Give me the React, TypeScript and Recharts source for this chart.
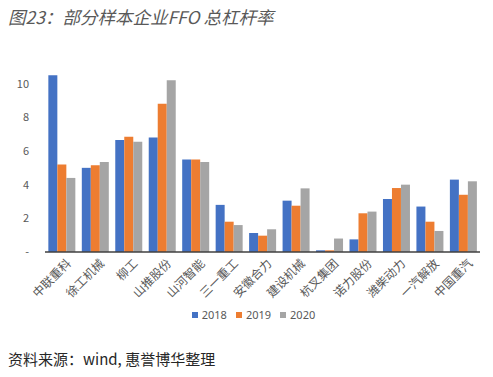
import { BarChart, Bar, XAxis, YAxis } from 'recharts';

const companies = ['中联重科', '徐工机械', '柳工', '山推股份', '山河智能', '三一重工', '安徽合力', '建设机械', '杭叉集团', '诺力股份', '潍柴动力', '一汽解放', '中国重汽'];
const v2018 = [10.5, 5.0, 6.65, 6.8, 5.5, 2.8, 1.13, 3.05, 0.1, 0.75, 3.15, 2.7, 4.3];
const v2019 = [5.2, 5.15, 6.85, 8.8, 5.5, 1.8, 0.97, 2.75, 0.1, 2.3, 3.8, 1.8, 3.4];
const v2020 = [4.4, 5.35, 6.55, 10.2, 5.35, 1.6, 1.35, 3.78, 0.8, 2.4, 4.0, 1.25, 4.2];
const years = ['2018', '2019', '2020'];
const colors = ['#4472C4', '#ED7D31', '#A5A5A5'];
const yTicks = [0, 2, 4, 6, 8, 10];

const data = companies.map((name, i) => ({
    name,
    y2018: v2018[i],
    y2019: v2019[i],
    y2020: v2020[i],
}));

const cjk = '"Noto Sans CJK SC", "Noto Sans", sans-serif';

const CategoryTick = ({ x, y, payload }: any) => (
    <text
        x={x}
        y={y}
        transform={`rotate(-45, ${x}, ${y})`}
        textAnchor='end'
        dx={4}
        dy={10}
        fill='#595959'
        fontSize={12}
        fontFamily={cjk}
    >
        {payload.value}
    </text>
);

const App = () => {
    return (
        <div style={{ position: 'absolute', top: 0, left: 0, width: 493, height: 377, background: '#fff', fontFamily: cjk }}>
            <div style={{ position: 'absolute', left: 8, top: 4, fontSize: 17.5, fontStyle: 'italic', color: '#595959' }}>
                图23：部分样本企业FFO 总杠杆率
            </div>
            <div style={{ position: 'absolute', top: 0, left: 0 }}>
                <BarChart
                    width={493}
                    height={310}
                    data={data}
                    margin={{ top: 50, right: 13, bottom: 0, left: 0 }}
                    barCategoryGap='10%'
                    barGap={0}
                >
                    <XAxis
                        dataKey='name'
                        interval={0}
                        tickLine={false}
                        axisLine={{ stroke: '#404040', strokeWidth: 1.5 }}
                        tick={<CategoryTick />}
                        height={58}
                    />
                    <YAxis
                        width={45}
                        domain={[0, 12]}
                        ticks={yTicks}
                        axisLine={false}
                        tickLine={false}
                        tickFormatter={(v: number) => (v === 0 ? '-' : String(v))}
                        tick={{ fill: '#595959', fontSize: 11 }}
                        tickMargin={10}
                    />
                    <Bar dataKey='y2018' fill={colors[0]} isAnimationActive={false} />
                    <Bar dataKey='y2019' fill={colors[1]} isAnimationActive={false} />
                    <Bar dataKey='y2020' fill={colors[2]} isAnimationActive={false} />
                </BarChart>
            </div>
            <div style={{ position: 'absolute', top: 307, left: 7, width: 493, display: 'flex', justifyContent: 'center', gap: 9, fontSize: 11, color: '#595959', fontFamily: '"Noto Sans", sans-serif' }}>
                {years.map((yr, i) => (
                    <span key={yr} style={{ display: 'flex', alignItems: 'center' }}>
                        <span style={{ width: 6, height: 6, background: colors[i], marginRight: 4, display: 'inline-block' }} />
                        {yr}
                    </span>
                ))}
            </div>
            <div style={{ position: 'absolute', left: 8, top: 348, fontSize: 15, color: '#262626' }}>
                资料来源：wind, 惠誉博华整理
            </div>
        </div>
    );
};

export default App;
